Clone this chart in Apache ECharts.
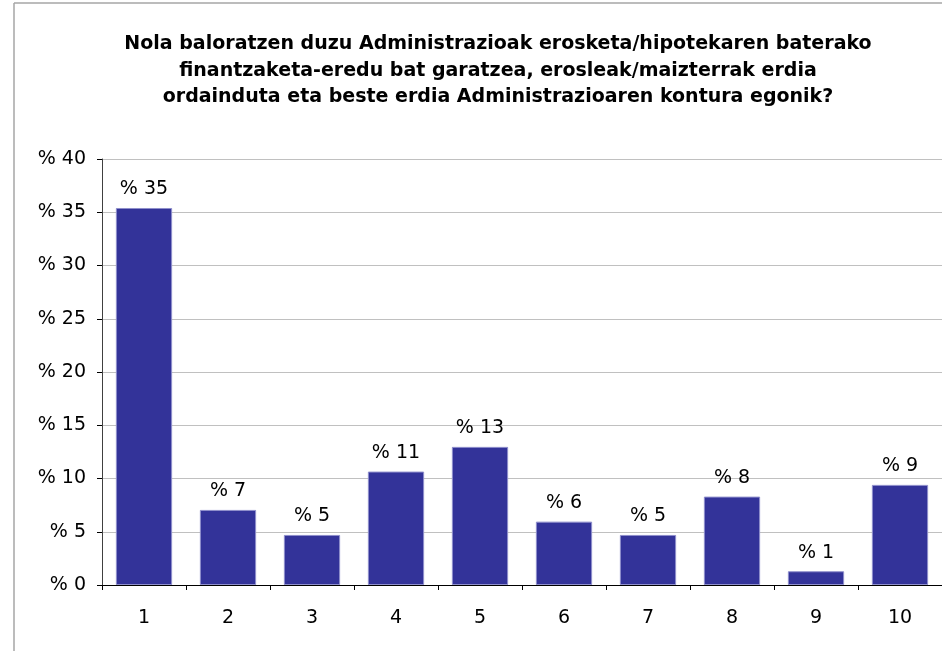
<!DOCTYPE html>
<html>
<head>
<meta charset="utf-8">
<script src="https://cdn.jsdelivr.net/npm/echarts@6/dist/echarts.min.js"></script>
<style>
  html, body { margin: 0; padding: 0; background: #fff; }
  #chart { width: 942px; height: 651px; }
</style>
</head>
<body>
<div id="chart"></div>
<script>
const titleText = 'Nola baloratzen duzu Administrazioak erosketa/hipotekaren baterako\nfinantzaketa-eredu bat garatzea, erosleak/maizterrak erdia\nordainduta eta beste erdia Administrazioaren kontura egonik?'
const categories = ['1', '2', '3', '4', '5', '6', '7', '8', '9', '10']
const values = [35.4, 7.05, 4.7, 10.65, 12.97, 5.95, 4.7, 8.3, 1.29, 9.4]

const chart = echarts.init(document.getElementById('chart'))
const font = '"DejaVu Sans", sans-serif'

const option = {
  animation: false,
  title: {
    text: titleText,
    left: 493,
    top: 26,
    textAlign: 'center',
    textStyle: { fontFamily: font, fontSize: 19, fontWeight: 'bold', color: '#000', lineHeight: 26.5 },
  },
  graphic: [
    { type: 'line', shape: { x1: 14, y1: 3, x2: 14, y2: 651 }, style: { stroke: '#a6a6a6', lineWidth: 1.5 } },
    { type: 'line', shape: { x1: 14, y1: 3, x2: 942, y2: 3 }, style: { stroke: '#a6a6a6', lineWidth: 1.5 } },
  ],
  grid: { left: 102, top: 159, right: -6, bottom: 66 },
  xAxis: {
    type: 'category',
    data: categories,
    axisLine: { lineStyle: { color: '#000', width: 1 } },
    axisTick: { show: true, length: 5, lineStyle: { color: '#000' } },
    axisLabel: { fontFamily: font, fontSize: 19, color: '#000', margin: 24 },
  },
  yAxis: {
    type: 'value',
    min: 0,
    max: 40,
    interval: 5,
    axisLine: { show: true, lineStyle: { color: '#404040', width: 1 } },
    axisTick: { show: true, length: 5, lineStyle: { color: '#000' } },
    axisLabel: { fontFamily: font, fontSize: 19, color: '#000', margin: 16, formatter: v => '% ' + v },
    splitLine: { lineStyle: { color: '#c0c0c0', width: 1 } },
  },
  series: [
    {
      type: 'bar',
      data: values,
      barWidth: '67%',
      itemStyle: { color: '#333399', borderColor: '#8f8fcc', borderWidth: 1 },
      label: {
        show: true,
        position: 'top',
        distance: 9,
        fontFamily: font,
        fontSize: 19,
        color: '#000',
        formatter: p => '% ' + Math.round(p.value),
      },
    },
  ],
}
chart.setOption(option)
</script>
</body>
</html>
